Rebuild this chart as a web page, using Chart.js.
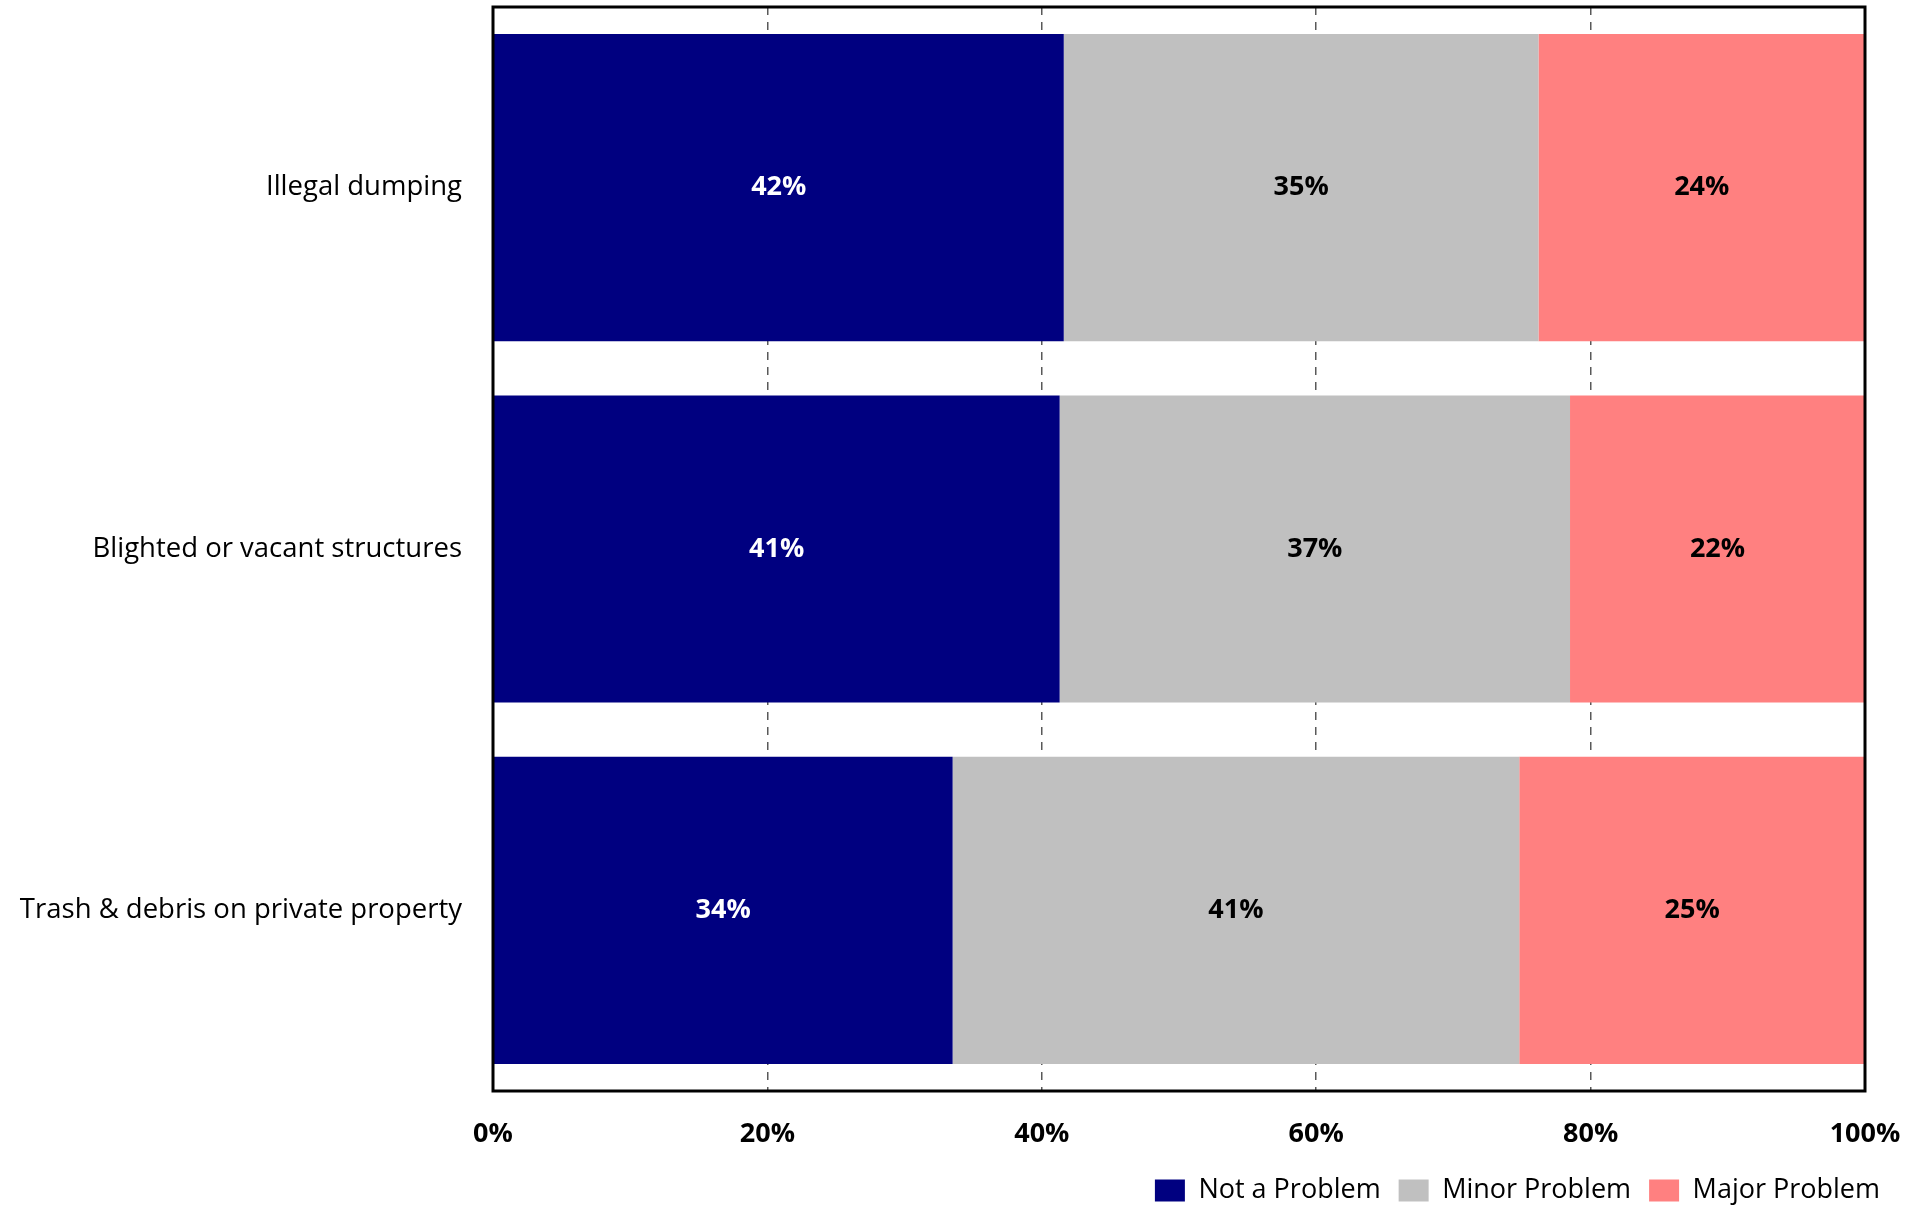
<!DOCTYPE html>
<html>
<head>
	<meta charset="UTF-8">
	<title>Neighborhood Problems</title>
	<script src="https://cdn.jsdelivr.net/npm/chart.js@4.4.0/dist/chart.umd.min.js"></script>
	<style>
		html, body { margin: 0; padding: 0; background: #fff; }
	</style>
</head>
<body>
	<canvas id="chart" width="1925" height="1207"></canvas>
	<script>
	// values (percent of respondents)
	const categories = ["Illegal dumping", "Blighted or vacant structures", "Trash & debris on private property"];
	const notProblem = [41.6, 41.3, 33.5];
	const minorProblem = [34.6, 37.2, 41.3];
	const majorProblem = [23.8, 21.5, 25.2];
	const seriesNames = ["Not a Problem", "Minor Problem", "Major Problem"];
	const seriesColors = ["#000080", "#C0C0C0", "#FF8080"];
	const labelColors = ["#ffffff", "#000000", "#000000"];

	const fontFamily = "'Open Sans', 'Noto Sans', sans-serif";

	// percent labels in the middle of each bar piece
	const barLabels = {
		id: "barLabels",
		afterDatasetsDraw(chart){
			let ctx = chart.ctx;
			ctx.save();
			ctx.font = "bold 27px " + fontFamily;
			ctx.textAlign = "center";
			ctx.textBaseline = "middle";
			chart.data.datasets.forEach(function(ds, i){
				let meta = chart.getDatasetMeta(i);
				meta.data.forEach(function(bar, j){
					ctx.fillStyle = labelColors[i];
					ctx.fillText(Math.round(ds.data[j]) + "%", (bar.x + bar.base) / 2, bar.y);
				});
			});
			ctx.restore();
		}
	};

	// black box round the plot area
	const frame = {
		id: "frame",
		afterDraw(chart){
			let a = chart.chartArea;
			let ctx = chart.ctx;
			ctx.save();
			ctx.strokeStyle = "#000";
			ctx.lineWidth = 3;
			ctx.strokeRect(a.left, a.top, a.right - a.left, a.bottom - a.top);
			ctx.restore();
		}
	};

	let ctx = document.getElementById("chart").getContext("2d");
	let chart = new Chart(ctx, {
		type: "bar",
		data: {
			labels: categories,
			datasets: [
				{ label: seriesNames[0], data: notProblem, backgroundColor: seriesColors[0] },
				{ label: seriesNames[1], data: minorProblem, backgroundColor: seriesColors[1] },
				{ label: seriesNames[2], data: majorProblem, backgroundColor: seriesColors[2] }
			]
		},
		options: {
			indexAxis: "y",
			responsive: false,
			animation: false,
			barPercentage: 0.85,
			categoryPercentage: 1,
			layout: { padding: { top: 7, right: 27, left: 0, bottom: -7 } },
			scales: {
				x: {
					stacked: true,
					min: 0,
					max: 100,
					border: { display: false, dash: [8, 7] },
					grid: {
						color: "#595959",
						lineWidth: 1.5,
						drawTicks: false
					},
					ticks: {
						stepSize: 20,
						padding: 27,
						color: "#000",
						font: { family: fontFamily, size: 27, weight: "bold" },
						callback: function(v){ return v + "%"; }
					},
					afterFit: function(scale){
						scale.height = 68;
						scale.paddingRight = 60;
					}
				},
				y: {
					stacked: true,
					border: { display: false },
					grid: { display: false },
					ticks: {
						padding: 23,
						color: "#000",
						font: { family: fontFamily, size: 27.5 }
					},
					afterFit: function(scale){
						scale.width = 493;
						scale.paddingTop = 0;
						scale.paddingBottom = 0;
					}
				}
			},
			plugins: {
				tooltip: { enabled: false },
				legend: {
					position: "bottom",
					align: "end",
					labels: {
						boxWidth: 30,
						boxHeight: 22,
						padding: 18,
						color: "#000",
						font: { family: fontFamily, size: 27 }
					}
				}
			}
		},
		plugins: [barLabels, frame]
	});
	</script>
</body>
</html>
